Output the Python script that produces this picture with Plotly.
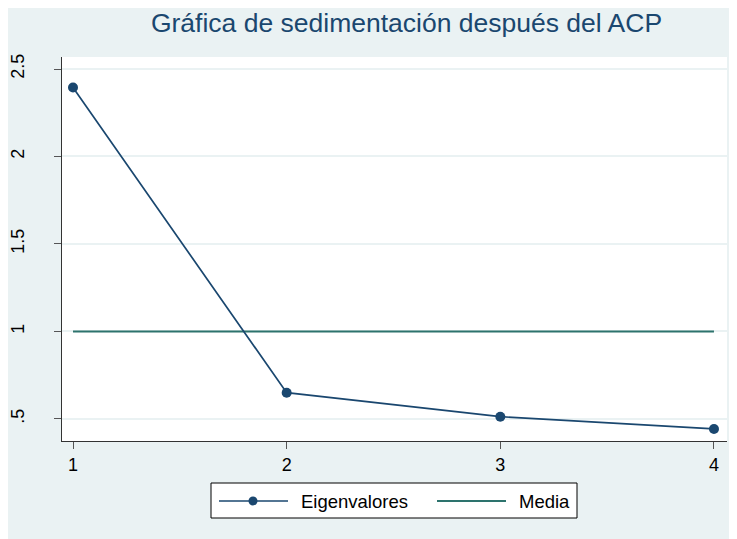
import plotly.graph_objects as go

componentes = [1, 2, 3, 4]
eigenvalores = [2.394, 0.650, 0.513, 0.443]
media_x = [1, 4]
media_y = [1, 1]
y_tickvals = [0.5, 1, 1.5, 2, 2.5]
y_ticktext = [".5", "1", "1.5", "2", "2.5"]
x_tickvals = [1, 2, 3, 4]
serie_nombres = ["Eigenvalores", "Media"]
titulo = "Gráfica de sedimentación después del ACP"

NAVY = "#1a476f"
TEAL = "#2d736d"
BG = "#eaf2f3"
FONT = "Liberation Sans, Arial, sans-serif"

# the page body adds an 8px margin; positions below are in the reference frame
OFF = 8
W, H = 737 - OFF, 539 - OFF
L, T = 62 - OFF, 57 - OFF
R = W - (727 - OFF)
B = H - (441 - OFF)
pw, ph = W - L - R, H - T - B

def px_x(px):
    return (px - OFF - L) / pw

def px_y(py):
    return (H - B - (py - OFF)) / ph

fig = go.Figure()
fig.add_trace(go.Scatter(x=media_x, y=media_y, mode="lines",
                         line=dict(color=TEAL, width=2),
                         name=serie_nombres[1], showlegend=False))
fig.add_trace(go.Scatter(x=componentes, y=eigenvalores, mode="lines+markers",
                         line=dict(color=NAVY, width=1.7),
                         marker=dict(color=NAVY, size=10),
                         name=serie_nombres[0], showlegend=False))

shapes = [
    # legend box
    dict(type="rect", xref="paper", yref="paper", x0=px_x(211), x1=px_x(577),
         y0=px_y(518), y1=px_y(483), fillcolor="white", line=dict(color="black", width=1)),
    # legend line samples
    dict(type="line", xref="paper", yref="paper", x0=px_x(219), x1=px_x(288),
         y0=px_y(501), y1=px_y(501), line=dict(color=NAVY, width=1.7)),
    dict(type="line", xref="paper", yref="paper", x0=px_x(437), x1=px_x(506),
         y0=px_y(501), y1=px_y(501), line=dict(color=TEAL, width=2)),
    dict(type="circle", xref="paper", yref="paper", x0=px_x(248.5), x1=px_x(257.5),
         y0=px_y(505.5), y1=px_y(496.5), fillcolor=NAVY, line=dict(color=NAVY, width=0)),
]

annotations = [
    dict(text=serie_nombres[0], xref="paper", yref="paper", x=px_x(299), y=px_y(501),
         xanchor="left", yanchor="middle", showarrow=False,
         font=dict(size=18.5, color="black", family=FONT)),
    dict(text=serie_nombres[1], xref="paper", yref="paper", x=px_x(517), y=px_y(501),
         xanchor="left", yanchor="middle", showarrow=False,
         font=dict(size=18.5, color="black", family=FONT)),
]

fig.update_layout(
    width=W, height=H,
    margin=dict(l=L, r=R, t=T, b=B, pad=0, autoexpand=False),
    paper_bgcolor=BG, plot_bgcolor="white",
    font=dict(family=FONT, color="black"),
    title=dict(text=titulo, x=(406.5 - OFF) / W, xref="container", xanchor="center",
               y=1 - (23 - OFF) / H, yref="container", yanchor="middle",
               font=dict(size=26.5, color=NAVY, family=FONT)),
    showlegend=False,
    shapes=shapes,
    annotations=annotations,
    xaxis=dict(range=[0.9485, 4.061], tickvals=x_tickvals, ticktext=[str(v) for v in x_tickvals],
               automargin=False,
               showgrid=False, zeroline=False, showline=True, linecolor="#333333", linewidth=1,
               ticks="outside", ticklen=7, tickcolor="#555555", tickwidth=1,
               tickfont=dict(size=18, color="black")),
    yaxis=dict(range=[0.374, 2.5686], tickvals=y_tickvals, ticktext=y_ticktext,
               automargin=False,
               tickangle=-90, showgrid=True, gridcolor=BG, gridwidth=1.5,
               zeroline=False, showline=True, linecolor="#333333", linewidth=1,
               ticks="outside", ticklen=7, tickcolor="#555555", tickwidth=1,
               ticklabelstandoff=23,
               tickfont=dict(size=18, color="black")),
)

fig.write_html("out.html")
